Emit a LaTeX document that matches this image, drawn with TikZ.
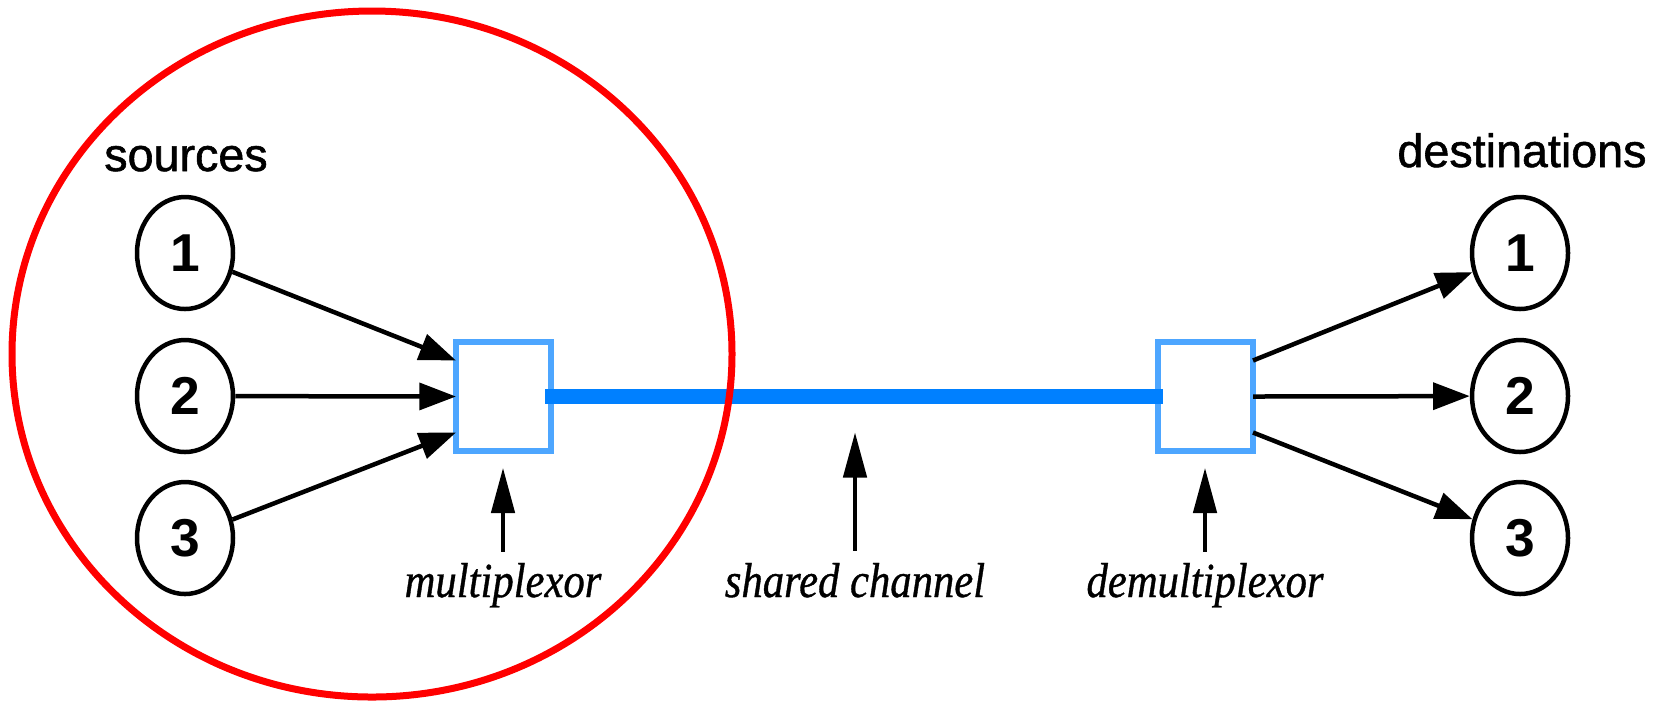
\documentclass[tikz,border=0pt]{standalone}
\usepackage{graphicx}
\usepackage{fontspec}
\setmainfont{Liberation Serif}
\newfontfamily\labelsans[FakeBold=1.2]{Liberation Sans}
\newfontfamily\digitsans{Liberation Sans Bold}
\newfontfamily\labelserif[FakeBold=0.8]{Liberation Serif}
\usetikzlibrary{arrows.meta,shapes.geometric}

\definecolor{muxblue}{RGB}{77,166,255}
\definecolor{chanblue}{RGB}{0,128,255}
\definecolor{ringred}{RGB}{255,0,0}

\tikzset{
  endpoint/.style={draw=black, line width=1.35pt, ellipse, minimum width=28.8pt,
    minimum height=33.6pt, inner sep=0pt,
    font=\digitsans\fontsize{16}{16}\selectfont},
  muxbox/.style={draw=muxblue, line width=1.95pt, rectangle, minimum width=28.5pt,
    minimum height=32.7pt, inner sep=0pt, outer sep=0pt, fill=white},
  channel/.style={draw=chanblue, line width=4.6pt},
  flow/.style={-{Triangle[length=11pt,width=8pt]}, line width=1.35pt},
  pointer/.style={-{Triangle[length=13.5pt,width=7pt]}, line width=1.1pt},
  grouptitle/.style={anchor=base, inner sep=0pt,
    font=\labelsans\fontsize{14}{14}\selectfont},
  partname/.style={anchor=base, inner sep=0pt,
    font=\labelserif\itshape\fontsize{12.8}{12.8}\selectfont},
  ring/.style={draw=ringred, line width=2.1pt},
}

\begin{document}
\begin{tikzpicture}[x=0.3pt,y=-0.3pt]
\useasboundingbox (0,0) rectangle (1660,701);

% group titles
\node[grouptitle] (srctitle) at (186,171) {sources};
\node[grouptitle] (dsttitle) at (1522,167) {destinations};

% sources and destinations
\node[endpoint] (s1) at (185,253) {1};
\node[endpoint] (s2) at (185,396) {2};
\node[endpoint] (s3) at (185,538) {3};
\node[endpoint] (d1) at (1520,253) {1};
\node[endpoint] (d2) at (1520,396) {2};
\node[endpoint] (d3) at (1520,538) {3};

% multiplexor, demultiplexor and the channel between them
\node[muxbox] (mux) at (503.5,396.5) {};
\node[muxbox] (demux) at (1205.5,396.5) {};
\draw[channel, shorten <=-1.8pt, shorten >=-1.5pt]
  (mux.east) -- coordinate[midway] (chan) (demux.west);

% inputs to the multiplexor
\draw[flow] (s1) -- ([yshift=10.8pt]mux.west);
\draw[flow] (s2) -- (mux.west);
\draw[flow] (s3) -- ([yshift=-10.8pt]mux.west);

% outputs of the demultiplexor
\draw[flow] ([yshift=10.8pt]demux.east) -- (d1);
\draw[flow] (demux.east) -- (d2);
\draw[flow] ([yshift=-10.8pt]demux.east) -- (d3);

% part names with pointers
\node[partname] (muxlabel) at (503,597) {\scalebox{1}[1.15]{multiplexor}};
\node[partname] (chanlabel) at (855,597) {\scalebox{1}[1.15]{shared channel}};
\node[partname] (demuxlabel) at (1205,597) {\scalebox{1}[1.15]{demultiplexor}};

\draw[pointer, shorten <=3.1pt, shorten >=5.1pt]
  (muxlabel.north) -- (muxlabel.north |- mux.south);
\draw[pointer, shorten <=3.4pt, shorten >=10.8pt]
  (chanlabel.north) -- (chanlabel.north |- chan);
\draw[pointer, shorten <=3.1pt, shorten >=5.1pt]
  (demuxlabel.north) -- (demuxlabel.north |- demux.south);

% highlight round the sending side
\draw[ring] (372,354) ellipse [x radius=108pt, y radius=102.9pt];
\end{tikzpicture}
\end{document}
